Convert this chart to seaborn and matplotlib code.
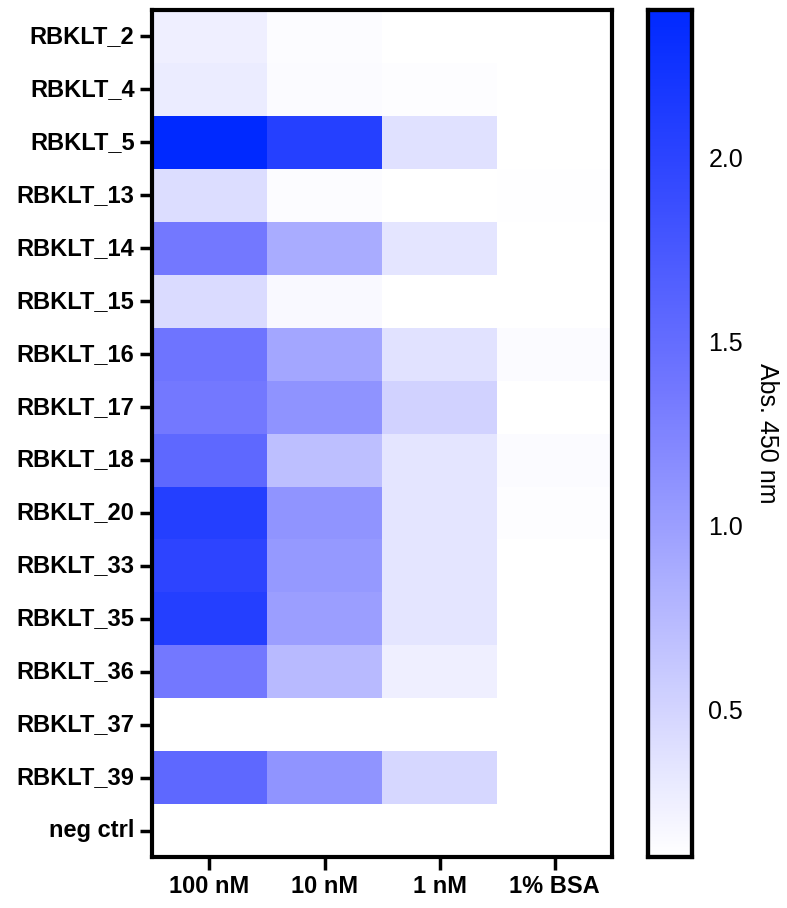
# Abs. 450 nm heatmap

import numpy as np
import pandas as pd
import matplotlib
matplotlib.use("Agg")
import matplotlib.pyplot as plt
import seaborn as sns
from matplotlib.colors import LinearSegmentedColormap

# 1. Data

clones = ["RBKLT_2", "RBKLT_4", "RBKLT_5", "RBKLT_13", "RBKLT_14", "RBKLT_15",
          "RBKLT_16", "RBKLT_17", "RBKLT_18", "RBKLT_20", "RBKLT_33", "RBKLT_35",
          "RBKLT_36", "RBKLT_37", "RBKLT_39", "neg ctrl"]
conditions = ["100 nM", "10 nM", "1 nM", "1% BSA"]

nm100 = [0.25, 0.28, 2.40, 0.42, 1.36, 0.44, 1.41, 1.36, 1.55, 2.07, 1.99, 2.07, 1.36, 0.10, 1.55, 0.10]
nm10 = [0.13, 0.14, 2.06, 0.13, 0.88, 0.16, 0.93, 1.11, 0.70, 1.10, 1.06, 1.00, 0.74, 0.10, 1.10, 0.10]
nm1 = [0.10, 0.12, 0.38, 0.10, 0.35, 0.10, 0.37, 0.52, 0.35, 0.35, 0.35, 0.35, 0.25, 0.10, 0.47, 0.10]
bsa = [0.10, 0.10, 0.10, 0.11, 0.10, 0.10, 0.14, 0.10, 0.14, 0.12, 0.10, 0.10, 0.10, 0.10, 0.10, 0.10]

df = pd.DataFrame({"100 nM": nm100, "10 nM": nm10, "1 nM": nm1, "1% BSA": bsa},
                  index=clones)[conditions]

# 2. Style

sns.set_style("white")
plt.rcParams["font.family"] = ["Liberation Sans", "DejaVu Sans"]
plt.rcParams["text.color"] = "black"
plt.rcParams["xtick.color"] = "black"
plt.rcParams["ytick.color"] = "black"
plt.rcParams["axes.labelcolor"] = "black"

cmap = LinearSegmentedColormap.from_list(
    "wb", [(0.0, "#FFFFFF"), (0.263, "#BCBEFF"), (0.549, "#7378FF"),
           (0.82, "#2E45FF"), (1.0, "#0029FF")])

# 3. Plot

fig = plt.figure(figsize=(7.87, 9.08), dpi=100)
ax = fig.add_axes([0.193, 0.056, 0.585, 0.933])
cax = fig.add_axes([0.824, 0.056, 0.055, 0.933])

sns.heatmap(df, ax=ax, cbar_ax=cax, cmap=cmap, vmin=0.1, vmax=2.4,
            cbar_kws={"ticks": [0.5, 1.0, 1.5, 2.0]})

# heatmap frame and ticks
for sp in ax.spines.values():
    sp.set_visible(True)
    sp.set_linewidth(3)
    sp.set_color("black")
ax.tick_params(axis="both", direction="out", length=9, width=2.5, color="black",
               left=True, bottom=True, labelsize=17)
ax.set_yticklabels(clones, rotation=0, fontweight="bold")
ax.set_xticklabels(conditions, rotation=0, fontweight="bold")
ax.set_xlabel("")
ax.set_ylabel("")

# colorbar
for sp in cax.spines.values():
    sp.set_visible(True)
    sp.set_linewidth(3)
    sp.set_color("black")
cax.tick_params(axis="y", which="both", direction="in", length=7, width=2,
                left=True, right=True, labelsize=18, pad=12)
cax.set_yticklabels(["0.5", "1.0", "1.5", "2.0"])
cax.set_ylabel("Abs. 450 nm", rotation=270, labelpad=26, fontsize=18)

fig.savefig("out.png", dpi=100)
